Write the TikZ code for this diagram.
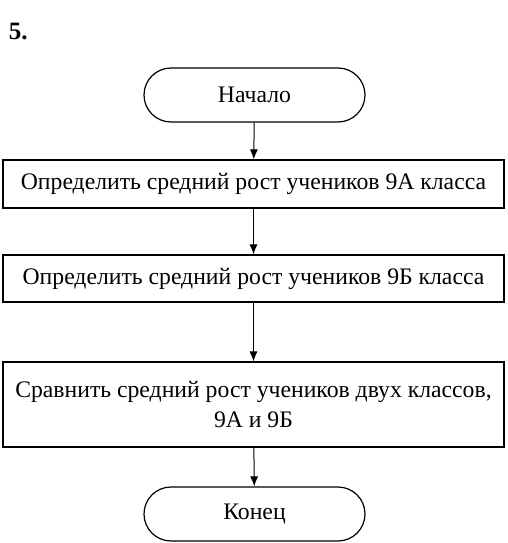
\documentclass[tikz,border=0pt]{standalone}
\usepackage{fontspec}
\setmainfont{Liberation Serif}
\usetikzlibrary{arrows.meta,positioning}
\tikzset{
  terminal/.style={draw, rounded corners=27pt, minimum width=221pt, minimum height=54pt, inner sep=0pt},
  actionbox/.style={draw, minimum width=501pt, inner sep=0pt, align=center},
  flow/.style={-{Latex[length=10pt,width=8pt]}, line width=1pt},
}

\begin{document}
\begin{tikzpicture}[x=1pt, y=-1pt, line width=1.2pt, font=\fontsize{23.7}{30}\selectfont]
        \useasboundingbox (0,0) rectangle (508,543);

        % Number of the task
        \node[font=\fontsize{25}{28}\selectfont\bfseries, anchor=west] (num) at (5,31) {5.};

        % Define blocks by coordinates
        \node[terminal] (start) at (254.5,95) {Начало};
        \node[actionbox, minimum height=48pt] (avgA) at (253.5,184) {Определить средний рост учеников 9А класса};
        \node[actionbox, minimum height=47pt] (avgB) at (253.5,278.5) {Определить средний рост учеников 9Б класса};
        \node[actionbox, minimum height=85pt] (cmp) at (253.5,404.5) {Сравнить средний рост учеников двух классов,\\9А и 9Б};
        \node[terminal] (stop) at (254.5,514) {Конец};

        % Draw arrows
        \draw[flow] (start) -- (avgA);
        \draw[flow] (avgA) -- (avgB);
        \draw[flow] (avgB) -- (cmp);
        \draw[flow] (cmp) -- (stop);

\end{tikzpicture}
\end{document}
